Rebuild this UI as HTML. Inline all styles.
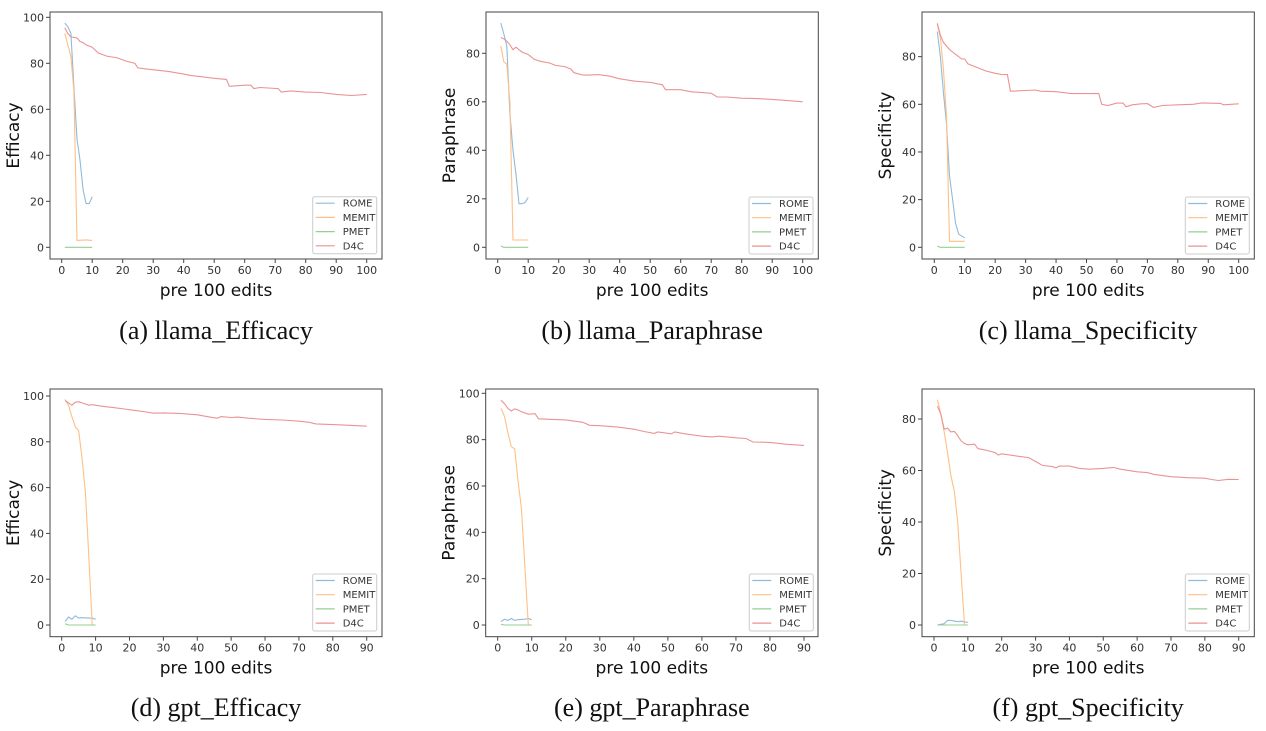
<!DOCTYPE html>
<html><head><meta charset="utf-8"><style>
html,body{margin:0;padding:0;background:#fff;width:1266px;height:731px;overflow:hidden}
svg{display:block}
</style></head><body>
<svg id="s" width="1266" height="731" xmlns="http://www.w3.org/2000/svg"></svg>
<script>
const C={ROME:"#8fbbd9",MEMIT:"#ffbf86",PMET:"#95cf95",D4C:"#ea9393"};
const P=[
{L:50,T:12,R:382,B:259,x0:61.7,x1:366.7,xm:100,y0:247.3,ppu:2.3,yt:[0,20,40,60,80,100],lab:"Efficacy",cap:"(a) llama_Efficacy",cy:330,lg:[312.7,196.7],
D4C:[[1,95.5],[2,93],[3,91.5],[5,91],[6,89.5],[7,89],[8,88],[10,87],[12,84.5],[15,83],[18,82.5],[21,81],[24,80],[25,78],[28,77.5],[35,76.5],[40,75.3],[42,74.8],[50,73.5],[54,73],[55,70],[60,70.5],[62,70.5],[63,69],[65,69.5],[71,69],[72,67.5],[75,68],[80,67.5],[85,67.3],[90,66.5],[95,66],[100,66.5]],
ROME:[[1,97.5],[2,96],[3,93],[4,70],[5,47],[6,38],[7,25],[8,19],[9,19],[10,22]],
MEMIT:[[1,93],[2,88],[3,83],[4,68],[5,3],[8,3.2],[10,3]],PMET:[[1,0],[10,0]]},
{L:486,T:12,R:818.3,B:259,x0:497.7,x1:802.7,xm:100,y0:247.3,ppu:2.425,yt:[0,20,40,60,80],lab:"Paraphrase",cap:"(b) llama_Paraphrase",cy:330,lg:[749,197],
D4C:[[1,86.5],[2,86],[3,85],[4,83.5],[5,81.5],[6,82.5],[7,81.5],[8,80.5],[10,79.5],[11,78.5],[12,77.5],[14,76.7],[17,76],[19,75],[22,74.5],[24,73.5],[25,72],[28,71],[30,71],[33,71.2],[37,70.5],[40,69.5],[45,68.5],[50,68],[52,67.5],[54,67],[55,65],[60,65],[62,64.5],[64,64],[65,64],[70,63.5],[72,62],[75,62],[80,61.5],[85,61.3],[90,61],[95,60.5],[100,60]],
ROME:[[1,92.5],[2,88],[3,83],[4,55],[5,40],[6,30],[7,18],[8,18],[9,18.5],[10,20.5]],
MEMIT:[[1,83],[2,76.5],[3,75.5],[4,60],[5,3],[10,3]],PMET:[[1,0.5],[2,0],[10,0]]},
{L:922,T:12,R:1254.3,B:259,x0:934.3,x1:1238.7,xm:100,y0:247.3,ppu:2.383,yt:[0,20,40,60,80],lab:"Specificity",cap:"(c) llama_Specificity",cy:330,lg:[1185.3,197],
D4C:[[1,94],[2,89],[3,86],[5,83],[7,81],[9,79],[10,79],[11,77],[13,76],[15,75],[17,74],[20,73],[22,72.5],[24,72.5],[25,65.5],[30,65.8],[33,66],[35,65.5],[40,65.3],[45,64.5],[50,64.5],[54,64.6],[55,60],[57,59.5],[60,60.5],[62,60.5],[63,59],[65,59.8],[68,60.2],[70,60.3],[72,58.7],[75,59.5],[80,59.8],[85,60],[88,60.6],[94,60.4],[95,59.8],[100,60.2]],
ROME:[[1,90.5],[2,80],[3,65],[4,52],[5,30],[6,20],[7,10],[8,5.5],[10,4]],
MEMIT:[[1,93.5],[2,88],[3,75],[4,55],[5,2.5],[10,2.5]],PMET:[[1,0.5],[2,0],[10,0]]},
{L:50,T:389,R:382,B:636.7,x0:61.7,x1:366.7,xm:90,y0:625,ppu:2.29,yt:[0,20,40,60,80,100],lab:"Efficacy",cap:"(d) gpt_Efficacy",cy:707,lg:[312.7,574],
D4C:[[1,98],[2,97],[3,96],[4,97.3],[5,97.5],[6,97],[7,96.5],[8,96],[9,96.2],[12,95.5],[15,95],[20,94],[25,93],[27,92.5],[30,92.6],[35,92.4],[40,91.8],[45,90.5],[46,90.3],[47,91],[50,90.6],[52,90.8],[55,90.3],[60,89.8],[65,89.5],[70,89],[73,88.5],[75,87.8],[80,87.5],[85,87.2],[90,86.8]],
ROME:[[1,1.5],[2,3.5],[3,2.5],[4,4],[5,3],[6,3.2],[8,3],[9,3],[10,2.5]],
MEMIT:[[1,98.5],[2,96],[3,91],[4,86.5],[5,85],[6,73],[7,58],[8,30],[9,0],[10,0]],PMET:[[1,0.5],[2,0],[10,0]]},
{L:485.7,T:389,R:818,B:636.7,x0:497.7,x1:804,xm:90,y0:625,ppu:2.317,yt:[0,20,40,60,80,100],lab:"Paraphrase",cap:"(e) gpt_Paraphrase",cy:707,lg:[749.3,574],
D4C:[[1,97],[2,95.5],[3,93.5],[4,92.3],[5,93.3],[6,92.8],[7,92],[9,91],[11,91.2],[12,89],[15,88.8],[20,88.5],[25,87.5],[27,86.2],[30,86],[35,85.5],[40,84.5],[43,83.5],[46,82.7],[47,83.3],[51,82.5],[52,83.3],[55,82.5],[60,81.5],[63,81.2],[65,81.5],[70,80.8],[73,80.5],[75,79],[80,78.8],[85,78],[90,77.5]],
ROME:[[1,1.5],[2,2.5],[3,2],[4,2.8],[5,2],[6,2.3],[8,2.5],[9,2.8],[10,2.3]],
MEMIT:[[1,93.5],[2,90],[3,83],[4,77],[5,76],[6,62],[7,50],[8,25],[9,0],[10,0]],PMET:[[1,0.3],[2,0],[10,0]]},
{L:922,T:389,R:1254.3,B:636.7,x0:934,x1:1238.7,xm:90,y0:625,ppu:2.575,yt:[0,20,40,60,80],lab:"Specificity",cap:"(f) gpt_Specificity",cy:707,lg:[1185.3,574],
D4C:[[1,85],[2,82],[3,76],[4,76.5],[5,75],[6,75.2],[7,73.5],[8,71.5],[9,70.5],[10,70],[12,70.2],[13,68.5],[15,68],[18,67],[19,66],[20,66.5],[25,65.5],[28,65],[30,63.5],[32,62],[35,61.5],[36,61],[37,61.7],[40,61.7],[43,60.8],[46,60.5],[50,60.8],[53,61.2],[55,60.5],[60,59.5],[63,59.2],[65,58.5],[70,57.6],[75,57.2],[80,57],[82,56.5],[84,56.1],[87,56.6],[90,56.5]],
ROME:[[1,0],[3,0.5],[4,1.8],[5,1.8],[7,1.3],[8,1.5],[9,1.2],[10,1]],
MEMIT:[[1,87.5],[2,82],[3,75],[4,67],[5,58],[6,52],[7,40],[8,20],[9,0],[10,0]],PMET:[[1,0],[10,0]]}
];
let h="";
const F='font-family="DejaVu Sans, Liberation Sans, sans-serif"';
for(const p of P){
 const sx=x=>p.x0+(p.x1-p.x0)*x/p.xm, sy=y=>p.y0-y*p.ppu;
 h+=`<rect x="${p.L}" y="${p.T}" width="${p.R-p.L}" height="${p.B-p.T}" fill="none" stroke="#444" stroke-width="1"/>`;
 for(const t of p.yt){const y=sy(t);h+=`<line x1="${p.L-4}" x2="${p.L}" y1="${y}" y2="${y}" stroke="#444"/><text x="${p.L-6}" y="${y+4}" font-size="11" text-anchor="end" fill="#333" ${F}>${t}</text>`;}
 for(let t=0;t<=p.xm;t+=10){const x=sx(t);h+=`<line x1="${x}" x2="${x}" y1="${p.B}" y2="${p.B+4}" stroke="#444"/><text x="${x}" y="${p.B+15}" font-size="11" text-anchor="middle" fill="#333" ${F}>${t}</text>`;}
 const cx=(p.L+p.R)/2, cyy=(p.T+p.B)/2;
 h+=`<text x="${cx}" y="${p.B+37}" font-size="17" text-anchor="middle" fill="#111" ${F}>pre 100 edits</text>`;
 h+=`<text transform="translate(${p.L-31},${cyy}) rotate(-90)" font-size="17" text-anchor="middle" fill="#111" ${F}>${p.lab}</text>`;
 for(const k of ["ROME","MEMIT","PMET","D4C"]){h+=`<polyline fill="none" stroke="${C[k]}" stroke-width="1.1" points="${p[k].map(([a,b])=>sx(a).toFixed(1)+","+sy(b).toFixed(1)).join(" ")}"/>`;}
 const [lx,ly]=p.lg;
 h+=`<rect x="${lx}" y="${ly}" width="64" height="57" fill="#fff" stroke="#ccc" rx="2"/>`;
 ["ROME","MEMIT","PMET","D4C"].forEach((k,i)=>{const y=ly+6.5+i*14.2;h+=`<line x1="${lx+3}" x2="${lx+22}" y1="${y}" y2="${y}" stroke="${C[k]}" stroke-width="1.2"/><text x="${lx+30}" y="${y+3.5}" font-size="10" fill="#333" ${F}>${k}</text>`;});
 h+=`<text x="${cx}" y="${p.cy+9}" font-size="26" text-anchor="middle" fill="#111" font-family="Liberation Serif, serif">${p.cap}</text>`;
}
document.getElementById("s").innerHTML=h;
</script>
</body></html>
